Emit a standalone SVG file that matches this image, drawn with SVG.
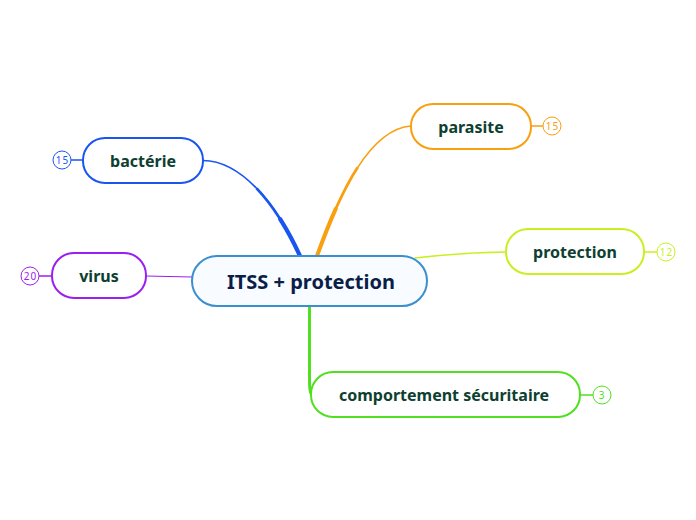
<svg xmlns="http://www.w3.org/2000/svg" width="696" height="520" viewBox="0 0 696 520">
<style>
.node{fill:#fff;stroke-width:2}
.lbl{font-family:"Noto Sans","Open Sans",sans-serif;font-weight:bold;font-size:16px;fill:#0d4030;text-anchor:middle;dominant-baseline:central}
.badge{fill:#fff;stroke-width:1}
.bt{font-family:"Noto Sans","DejaVu Sans",sans-serif;font-size:10px;text-anchor:middle;dominant-baseline:central;letter-spacing:1px}
.c{fill:none;stroke-linecap:round}
</style>
<rect width="696" height="520" fill="#fff"/>
<g id="connectors">
<path class="c" d="M203,160.5 C242,161 276,204 300,256" stroke="#1a55f0" stroke-width="1.6"/>
<path class="c" d="M257.1,188.9 C273.5,206.25 288,230 300,256" stroke="#1a55f0" stroke-width="2.8"/>
<path class="c" d="M280.2,219.2 C287.4,230.6 294,243 300,256" stroke="#1a55f0" stroke-width="4.2"/>
<path class="c" d="M411,126 C370,129 340,192 317,256" stroke="#f8a010" stroke-width="1.6"/>
<path class="c" d="M357.25,168.1 C341.75,192.25 328.5,224 317,256" stroke="#f8a010" stroke-width="2.8"/>
<path class="c" d="M335.6,209.1 C328.9,224.05 322.75,240 317,256" stroke="#f8a010" stroke-width="4"/>
<path class="c" d="M506,252 C470,252.5 440,255 415,258" stroke="#c8f020" stroke-width="1.5"/>
<path class="c" d="M146,276 L192,277" stroke="#9a20f0" stroke-width="1.2"/>
<path d="M308,306 L308,380 Q308,395 311,395 L313,395 Q311,395 311,380 L311,306 Z" fill="#50e020"/>
<line x1="71" y1="160" x2="83" y2="160" stroke="#1a55f0" stroke-width="1.5"/>
<line x1="531" y1="126" x2="543" y2="126" stroke="#f8a010" stroke-width="1.5"/>
<line x1="644" y1="252" x2="657" y2="252" stroke="#c8f020" stroke-width="1.5"/>
<line x1="39" y1="276" x2="52" y2="276" stroke="#9a20f0" stroke-width="1.5"/>
<line x1="580" y1="395" x2="593" y2="395" stroke="#50e020" stroke-width="1.5"/>
</g>
<g id="center">
<rect x="192" y="256" width="235" height="50" rx="25" fill="#f8fbff" stroke="#3a8fd0" stroke-width="2"/>
<text x="311" y="281.5" font-family="'Noto Sans','Open Sans',sans-serif" font-weight="bold" font-size="20" fill="#0a1e48" text-anchor="middle" dominant-baseline="central">ITSS + protection</text>
</g>
<g id="bacterie">
<rect class="node" x="83" y="138" width="120" height="45" rx="22" stroke="#1a55f0"/>
<text class="lbl" x="143" y="161">bactérie</text>
<circle class="badge" cx="62" cy="160" r="9" stroke="#1a55f0"/>
<text class="bt" x="62.5" y="160" fill="#1a55f0">15</text>
</g>
<g id="parasite">
<rect class="node" x="411" y="104" width="120" height="45" rx="22" stroke="#f8a010"/>
<text class="lbl" x="471" y="127">parasite</text>
<circle class="badge" cx="552" cy="126" r="9" stroke="#f8a010"/>
<text class="bt" x="552.5" y="126" fill="#f8a010">15</text>
</g>
<g id="protection">
<rect class="node" x="506" y="229" width="138" height="45" rx="22" stroke="#c8f020"/>
<text class="lbl" x="575" y="252">protection</text>
<circle class="badge" cx="666" cy="252" r="9" stroke="#c8f020"/>
<text class="bt" x="666.5" y="252" fill="#c8f020">12</text>
</g>
<g id="virus">
<rect class="node" x="52" y="253" width="94" height="45" rx="22" stroke="#9a20f0"/>
<text class="lbl" x="99" y="276">virus</text>
<circle class="badge" cx="30" cy="276" r="9" stroke="#9a20f0"/>
<text class="bt" x="30.5" y="276" fill="#9a20f0">20</text>
</g>
<g id="comportement">
<rect class="node" x="311" y="372" width="269" height="45" rx="22" stroke="#50e020"/>
<text class="lbl" x="444" y="395">comportement sécuritaire</text>
<circle class="badge" cx="602" cy="395" r="9" stroke="#50e020"/>
<text class="bt" x="602" y="395" fill="#50e020">3</text>
</g>
</svg>
